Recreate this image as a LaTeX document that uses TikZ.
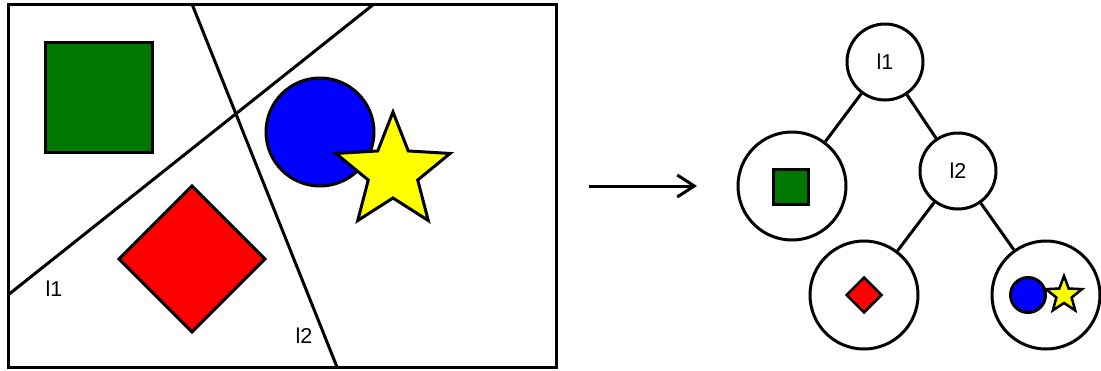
\documentclass[tikz,border=0pt]{standalone}
\usepackage{fontspec}
\setmainfont{Liberation Sans}
\usetikzlibrary{arrows.meta,shapes.geometric}
\definecolor{sqgreen}{RGB}{0,119,0}
\definecolor{dblue}{RGB}{0,0,255}
\definecolor{dred}{RGB}{255,0,0}
\definecolor{dyellow}{RGB}{255,255,0}
\newcommand\mystar[5]{\draw[#5,shift={(#1,#2)}] (90:#3) -- (126:#4) -- (162:#3) -- (198:#4) -- (234:#3) -- (270:#4) -- (306:#3) -- (342:#4) -- (18:#3) -- (54:#4) -- cycle;}
\tikzset{
  shp/.style={draw=black,line width=3pt,line join=miter},
  lbl/.style={font=\fontsize{21.5}{24}\selectfont,inner sep=0pt},
  tnode/.style={circle,draw=black,line width=3pt,minimum size=76pt,inner sep=0pt,font=\fontsize{21.5}{24}\selectfont},
  leaf/.style={circle,draw=black,line width=3pt,minimum size=108pt,inner sep=0pt},
  edge/.style={line width=3pt},
}
\begin{document}
\begin{tikzpicture}[x=1pt,y=1pt]
\useasboundingbox (0,0) rectangle (1101,-370);
% left panel
\draw[line width=3pt] (8,-4) rectangle (556,-367);
\draw[shp,fill=sqgreen] (45,-42) rectangle (152,-152);
\draw[shp,fill=dred] (192,-186) -- (265,-259) -- (192,-332) -- (119,-259) -- cycle;
\coordinate (l1a) at (8,-295);
\coordinate (l1b) at (374,-4);
\coordinate (l2a) at (192,-4);
\coordinate (l2b) at (337,-367);
\draw[line width=3pt] (l1a) -- (l1b);
\draw[line width=3pt] (l2a) -- (l2b);
\draw[shp,fill=dblue] (320,-132) circle (54);
\mystar{393}{-172}{60}{26}{shp,fill=dyellow}
\node[lbl] (t1) at (54,-289) {l1};
\node[lbl] (t2) at (304,-336) {l2};
% arrow
\coordinate (as) at (589,-186);
\coordinate (ae) at (697,-186);
\draw[line width=3pt,-{Straight Barb[length=17pt,width=22pt]}] (as) -- (ae);
% tree
\node[tnode] (n1) at (885,-62) {l1};
\node[tnode] (n2) at (958,-171) {l2};
\node[leaf] (lg) at (792,-186) {};
\node[leaf] (lr) at (864,-295) {};
\node[leaf] (lb) at (1046,-295) {};
\draw[edge] (n1) -- (lg);
\draw[edge] (n1) -- (n2);
\draw[edge] (n2) -- (lr);
\draw[edge] (n2) -- (lb);
\node[draw=black,line width=3pt,fill=sqgreen,minimum size=35pt,inner sep=0pt] (sg) at (791,-187) {};
\node[diamond,draw=black,line width=2.5pt,fill=dred,minimum size=36pt,inner sep=0pt] (sr) at (864,-295) {};
\node[circle,draw=black,line width=3pt,fill=dblue,minimum size=35pt,inner sep=0pt] (sb) at (1028,-295) {};
\mystar{1064}{-295}{19}{8}{draw=black,line width=2.5pt,fill=dyellow}
\end{tikzpicture}
\end{document}
